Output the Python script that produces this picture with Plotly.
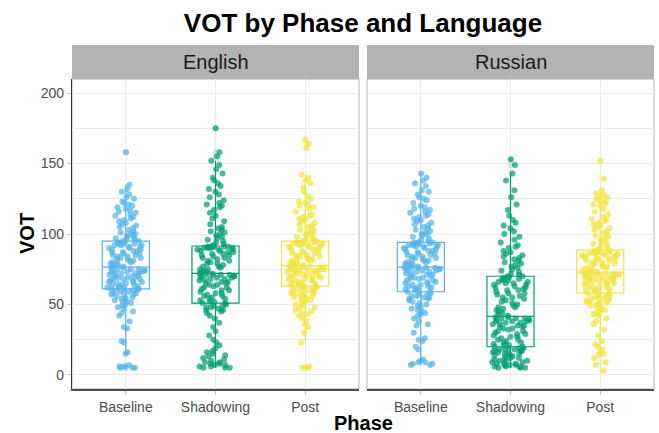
import plotly.graph_objects as go

phases = ["Baseline", "Shadowing", "Post"]
languages = ["English", "Russian"]
colors = {"Baseline": "#56B4E9", "Shadowing": "#009E73", "Post": "#F0E442"}
y_ticks = [0, 50, 100, 150, 200]

eng_baseline = [
    5, 5, 5, 6, 6, 7, 15, 16, 23, 24, 33, 34, 38, 42, 44, 45, 47, 48, 49, 50,
    51, 52, 52, 53, 54, 54, 55, 56, 56, 57, 57, 58, 58, 59, 59, 60, 60, 60, 61, 61,
    61, 62, 62, 62, 63, 63, 64, 64, 64, 65, 65, 66, 66, 66, 67, 67, 68, 68, 68, 69,
    69, 70, 70, 70, 71, 71, 72, 72, 72, 73, 73, 73, 74, 74, 74, 75, 75, 75, 76, 76,
    77, 77, 78, 78, 79, 79, 80, 80, 81, 81, 82, 82, 83, 83, 84, 84, 85, 85, 86, 86,
    87, 87, 88, 88, 89, 89, 90, 90, 91, 91, 92, 92, 92, 93, 93, 93, 94, 94, 94, 95,
    95, 96, 96, 97, 97, 98, 99, 99, 100, 100, 101, 102, 103, 104, 105, 106, 107, 108, 109, 110,
    111, 112, 113, 114, 115, 116, 117, 118, 119, 120, 121, 122, 123, 125, 126, 128, 130, 132, 135, 158,
]
eng_shadowing = [
    5, 5, 5, 6, 6, 7, 7, 8, 8, 9, 9, 10, 11, 12, 13, 14, 15, 16, 17, 19,
    21, 23, 25, 28, 31, 34, 37, 40, 42, 44, 45, 46, 46, 47, 48, 48, 49, 49, 50, 51,
    51, 52, 52, 53, 54, 54, 55, 56, 56, 57, 58, 58, 59, 60, 60, 61, 62, 62, 63, 64,
    64, 65, 65, 66, 66, 67, 67, 68, 68, 69, 69, 69, 70, 70, 70, 71, 71, 71, 71, 72,
    72, 73, 73, 74, 75, 75, 76, 77, 77, 78, 79, 79, 80, 81, 81, 82, 83, 83, 84, 85,
    85, 86, 86, 87, 87, 88, 88, 89, 89, 89, 90, 90, 90, 90, 91, 91, 91, 91, 91, 91,
    92, 93, 94, 95, 96, 97, 98, 99, 100, 101, 102, 103, 104, 105, 107, 109, 111, 113, 115, 117,
    119, 120, 121, 122, 124, 126, 128, 130, 132, 134, 136, 138, 140, 143, 146, 149, 152, 155, 158, 175,
]
eng_post = [
    5, 5, 6, 23, 30, 34, 36, 38, 40, 42, 43, 44, 45, 46, 47, 48, 49, 50, 51, 52,
    53, 54, 54, 55, 55, 56, 56, 57, 57, 58, 58, 59, 59, 60, 60, 61, 61, 62, 62, 63,
    63, 63, 64, 64, 65, 65, 66, 66, 67, 67, 68, 68, 68, 69, 69, 70, 70, 70, 71, 71,
    72, 72, 72, 73, 73, 73, 74, 74, 74, 75, 75, 75, 75, 76, 76, 76, 76, 77, 77, 77,
    78, 78, 79, 79, 80, 80, 81, 81, 82, 82, 83, 83, 84, 84, 85, 85, 86, 86, 87, 87,
    88, 88, 89, 89, 90, 90, 91, 91, 92, 92, 92, 93, 93, 93, 93, 94, 94, 94, 94, 95,
    95, 96, 96, 97, 98, 99, 100, 100, 101, 102, 103, 104, 105, 106, 107, 108, 109, 110, 111, 112,
    113, 114, 116, 118, 119, 120, 121, 122, 123, 125, 127, 130, 133, 136, 138, 140, 142, 161, 164, 167,
]
rus_baseline = [
    7, 7, 8, 8, 9, 9, 10, 11, 18, 20, 24, 25, 26, 30, 35, 36, 38, 40, 42, 43,
    44, 45, 46, 47, 48, 49, 50, 51, 52, 53, 54, 54, 55, 55, 56, 56, 57, 57, 58, 59,
    59, 60, 60, 61, 61, 62, 62, 63, 63, 64, 64, 65, 65, 66, 66, 67, 67, 68, 68, 69,
    69, 70, 70, 71, 71, 72, 72, 73, 73, 74, 74, 74, 75, 75, 75, 76, 76, 76, 76, 76,
    77, 77, 78, 78, 79, 79, 80, 80, 81, 81, 82, 82, 83, 83, 84, 84, 85, 85, 86, 86,
    87, 87, 88, 88, 89, 89, 90, 90, 91, 91, 91, 92, 92, 92, 93, 93, 93, 93, 94, 94,
    94, 95, 96, 97, 98, 99, 100, 100, 101, 102, 103, 104, 105, 106, 107, 108, 109, 110, 111, 112,
    113, 114, 115, 116, 117, 118, 119, 120, 122, 124, 125, 126, 128, 130, 131, 134, 136, 138, 140, 143,
]
rus_shadowing = [
    5, 5, 5, 6, 6, 6, 7, 7, 7, 8, 8, 8, 9, 9, 10, 10, 10, 11, 11, 12,
    12, 13, 13, 14, 14, 15, 15, 15, 16, 16, 17, 17, 17, 18, 18, 18, 19, 19, 19, 20,
    20, 21, 21, 22, 23, 23, 24, 25, 25, 26, 27, 27, 28, 29, 29, 30, 31, 31, 32, 33,
    33, 34, 34, 35, 35, 36, 36, 37, 37, 38, 38, 38, 39, 39, 39, 40, 40, 40, 41, 41,
    42, 43, 44, 45, 46, 47, 48, 48, 49, 50, 51, 52, 53, 54, 55, 55, 56, 57, 58, 58,
    59, 60, 60, 61, 62, 62, 63, 64, 64, 65, 65, 66, 66, 67, 67, 68, 68, 69, 69, 70,
    70, 71, 72, 73, 74, 75, 76, 77, 78, 79, 80, 81, 82, 83, 84, 85, 86, 87, 88, 90,
    91, 92, 94, 96, 98, 100, 102, 104, 106, 108, 110, 113, 117, 121, 126, 131, 138, 143, 149, 153,
]
rus_post = [
    3, 7, 9, 12, 14, 15, 16, 18, 20, 22, 24, 28, 32, 36, 38, 40, 42, 43, 44, 45,
    46, 47, 48, 49, 50, 50, 51, 51, 52, 52, 53, 53, 54, 54, 55, 55, 56, 56, 57, 58,
    58, 59, 59, 60, 60, 61, 61, 62, 62, 63, 63, 64, 64, 65, 65, 66, 66, 66, 67, 67,
    67, 68, 68, 68, 69, 69, 69, 70, 70, 70, 71, 71, 71, 71, 72, 72, 72, 72, 72, 73,
    73, 73, 74, 74, 75, 75, 76, 76, 77, 77, 78, 78, 79, 79, 80, 80, 81, 81, 82, 82,
    83, 83, 83, 84, 84, 84, 85, 85, 85, 86, 86, 86, 86, 87, 87, 87, 87, 88, 88, 88,
    89, 90, 91, 92, 93, 94, 95, 96, 97, 98, 99, 100, 101, 102, 103, 104, 105, 106, 107, 108,
    109, 110, 111, 112, 114, 116, 118, 120, 121, 122, 123, 124, 125, 126, 127, 128, 129, 131, 139, 152,
]

data = {
    ("English", "Baseline"): eng_baseline,
    ("English", "Shadowing"): eng_shadowing,
    ("English", "Post"): eng_post,
    ("Russian", "Baseline"): rus_baseline,
    ("Russian", "Shadowing"): rus_shadowing,
    ("Russian", "Post"): rus_post,
}

FONT = "Liberation Sans, Arial, sans-serif"
GRID = "#ebebeb"
fig = go.Figure()

for li, lang in enumerate(languages):
    xa = "x" if li == 0 else "x2"
    ya = "y" if li == 0 else "y2"
    for ph in phases:
        vals = data[(lang, ph)]
        c = colors[ph]
        # box with (faded) outliers at the centre
        fig.add_trace(go.Box(
            x=[ph] * len(vals), y=vals, xaxis=xa, yaxis=ya,
            boxpoints="outliers", whiskerwidth=0,
            marker=dict(color=c, opacity=0.18, size=6, line=dict(width=0)),
            line=dict(color=c, width=1.2),
            fillcolor="rgba(255,255,255,0)",
            showlegend=False, hoverinfo="skip",
        ))
        # jittered raw points
        fig.add_trace(go.Box(
            x=[ph] * len(vals), y=vals, xaxis=xa, yaxis=ya,
            boxpoints="all", jitter=0.8, pointpos=0,
            marker=dict(color=c, opacity=0.72, size=6, line=dict(width=0)),
            line=dict(color="rgba(0,0,0,0)", width=0),
            fillcolor="rgba(0,0,0,0)",
            showlegend=False,
        ))

W, H = 659, 433
ml, mr, mt, mb = 72, 5, 79, 44
pw = W - ml - mr
ph_ = H - mt - mb
d1 = 287 / pw
d2 = 295 / pw
strip_h = 34 / ph_

xcommon = dict(
    type="category", categoryorder="array", categoryarray=phases,
    range=[-0.6, 2.6], showgrid=True, gridcolor=GRID, gridwidth=1,
    showline=True, linecolor="#4d4d4d", linewidth=1.5,
    ticks="outside", ticklen=4, tickcolor="#c8c8c8",
    tickfont=dict(size=14, color="#4d4d4d", family=FONT),
    zeroline=False, fixedrange=True,
)
ycommon = dict(
    range=[-10, 210], tickvals=y_ticks, showgrid=True, gridcolor=GRID, gridwidth=1,
    minor=dict(tick0=0, dtick=25, showgrid=True, gridcolor=GRID, gridwidth=1),
    zeroline=False, fixedrange=True,
)

fig.update_layout(
    width=W, height=H,
    margin=dict(l=ml, r=mr, t=mt, b=mb),
    paper_bgcolor="white", plot_bgcolor="white",
    boxmode="overlay", boxgap=0.25,
    font=dict(family=FONT, color="#4d4d4d"),
    title=dict(text="<b>VOT by Phase and Language</b>", x=0.5, xref="paper",
               y=1 - 23 / H, yref="container", yanchor="middle", xanchor="center",
               font=dict(size=26, color="#000000", family=FONT)),
    xaxis=dict(domain=[0, d1], anchor="y", **xcommon),
    xaxis2=dict(domain=[d2, 1], anchor="y2", **xcommon),
    yaxis=dict(domain=[0, 1], anchor="x", showline=True, linecolor="#333333", linewidth=1.3,
               ticks="outside", ticklen=4, tickcolor="#c8c8c8",
               tickfont=dict(size=14, color="#4d4d4d", family=FONT), **ycommon),
    yaxis2=dict(domain=[0, 1], anchor="x2", matches="y", showticklabels=False,
                showline=False, ticks="", **ycommon),
)

shapes = []
annotations = []
for li, lang in enumerate(languages):
    xr = "x domain" if li == 0 else "x2 domain"
    yr = "y domain" if li == 0 else "y2 domain"
    shapes.append(dict(type="rect", xref=xr, yref=yr, x0=0, x1=1, y0=0, y1=1,
                       line=dict(color="#c8c8c8", width=1.3), fillcolor="rgba(0,0,0,0)",
                       layer="below"))
    shapes.append(dict(type="rect", xref=xr, yref="paper", x0=0, x1=1, y0=1, y1=1 + strip_h,
                       line=dict(width=0), fillcolor="#b3b3b3", layer="above"))
    annotations.append(dict(text=lang, xref=xr, yref="paper", x=0.5, y=1 + strip_h / 2,
                            xanchor="center", yanchor="middle", showarrow=False,
                            font=dict(size=20, color="#1a1a1a", family=FONT)))

annotations.append(dict(text="<b>Phase</b>", xref="paper", yref="paper", x=0.5,
                        y=-(423 - 389) / ph_, xanchor="center", yanchor="middle",
                        showarrow=False, font=dict(size=20, color="#000000", family=FONT)))
annotations.append(dict(text="<b>VOT</b>", xref="paper", yref="paper", x=-(ml - 27) / pw,
                        y=0.5, xanchor="center", yanchor="middle", textangle=-90,
                        showarrow=False, font=dict(size=20, color="#000000", family=FONT)))

fig.update_layout(shapes=shapes, annotations=annotations)

fig.write_html("out.html", config={"displayModeBar": False},
               post_script="document.body.style.margin='0';")
